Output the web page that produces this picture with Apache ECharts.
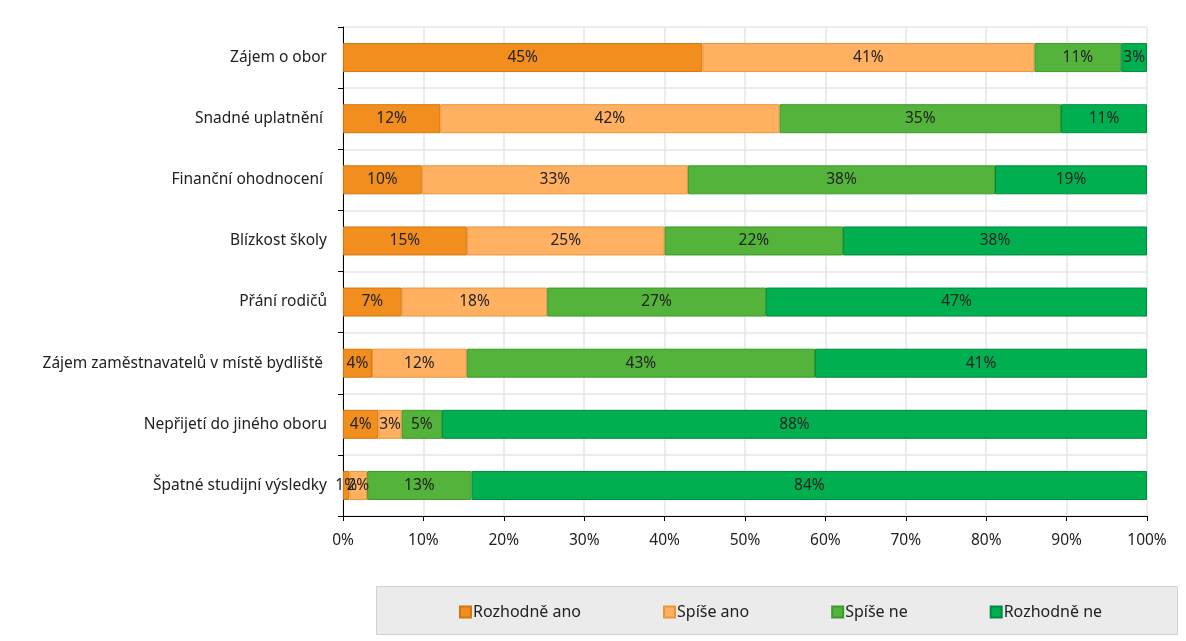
<!DOCTYPE html>
<html><head><meta charset="utf-8">
<script src="https://cdn.jsdelivr.net/npm/echarts@6/dist/echarts.min.js"></script>
<style>html,body{margin:0;padding:0;background:#fff}#c{width:1186px;height:641px}</style>
</head><body><div id="c"></div>
<script>
const categories = ["Zájem o obor","Snadné uplatnění ","Finanční ohodnocení ","Blízkost školy","Přání rodičů","Zájem zaměstnavatelů v místě bydliště ","Nepřijetí do jiného oboru","Špatné studijní výsledky"];
const seriesNames = ["Rozhodně ano","Spíše ano","Spíše ne","Rozhodně ne"];
const rozhodneAno = [44.7, 12.1, 9.8, 15.4, 7.3, 3.6, 4.4, 0.8];
const spiseAno    = [41.3, 42.2, 33.1, 24.6, 18.1, 11.8, 2.9, 2.2];
const spiseNe     = [10.8, 35.0, 38.2, 22.2, 27.2, 43.3, 5.0, 13.0];
const rozhodneNe  = [3.2, 10.7, 18.9, 37.8, 47.4, 41.3, 87.7, 84.0];
const xTicks = ["0%","10%","20%","30%","40%","50%","60%","70%","80%","90%","100%"];

const colors = ["#F28E1E","#FFB161","#53B33A","#00B050"];
const borders = ["#D2770F","#E8953A","#3E9A2B","#00893D"];
const values = [rozhodneAno, spiseAno, spiseNe, rozhodneNe];
const FONT = "Noto Sans";
const FS = 15.5;

const chart = echarts.init(document.getElementById('c'), null, {renderer:'canvas'});
chart.setOption({
  animation:false,
  textStyle:{fontFamily:FONT},
  graphic:[{type:'rect',left:376,top:586,shape:{width:801,height:48},style:{fill:'#EBEBEB',stroke:'#D0D0D0',lineWidth:1},z:-1}],
  grid:{left:343,right:39,top:27,bottom:125,containLabel:false},
  legend:{
    left:454, top:599, itemGap:82, itemWidth:11, itemHeight:11,
    icon:'rect',
    textStyle:{fontFamily:FONT,fontSize:16,color:'#222',padding:[0,0,0,-3]},
    data:seriesNames
  },
  xAxis:{
    type:'value', min:0, max:100, interval:10,
    axisLine:{show:true,lineStyle:{color:'#000',width:1}},
    axisTick:{show:true,length:5,lineStyle:{color:'#000'}},
    axisLabel:{fontFamily:FONT,fontSize:FS,color:'#222',margin:17,formatter:(v)=>xTicks[Math.round(v/10)]},
    splitLine:{show:true,lineStyle:{color:'#E6E6E6',width:1.5}}
  },
  yAxis:{
    type:'category', inverse:true, data:categories,
    axisLine:{show:true,lineStyle:{color:'#000',width:1}},
    axisTick:{show:true,length:5,inside:false,lineStyle:{color:'#000'}},
    axisLabel:{fontFamily:FONT,fontSize:FS,color:'#222',margin:16},
    splitLine:{show:true,lineStyle:{color:'#E6E6E6',width:1.5}}
  },
  series: seriesNames.map((n,i)=>({
    name:n, type:'bar', stack:'s', barWidth:29,
    data:values[i],
    itemStyle:{color:colors[i],borderColor:borders[i],borderWidth:1},
    label:{show:true,position:'inside',fontFamily:FONT,fontSize:FS,color:'#222',
      formatter:(p)=>Math.round(p.value)+'%'}
  }))
});
</script></body></html>
